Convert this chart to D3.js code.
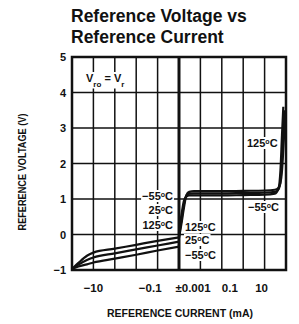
<!DOCTYPE html>
<html>
<head>
<meta charset="utf-8">
<script src="https://cdn.jsdelivr.net/npm/d3@7"></script>
<style>
  body { margin: 0; background: #fff; }
  text { font-family: "Liberation Sans", Arial, sans-serif; font-weight: bold; fill: #111; }
</style>
</head>
<body>
<div id="chart"></div>
<script>
// reference voltage vs reference current, three temperatures

// negative currents (mA) and voltages (V)
let negCurrent = [-100, -50, -20, -10, -1, -0.1, -0.01, -0.001]
let neg125 = [-0.97, -0.8, -0.6, -0.51, -0.40, -0.29, -0.18, -0.08]
let neg25 = [-0.97, -0.85, -0.72, -0.65, -0.53, -0.42, -0.31, -0.2]
let negM55 = [-0.97, -0.9, -0.84, -0.79, -0.68, -0.57, -0.45, -0.34]

// positive currents (mA) and voltages (V)
let posCurrent = [0.001, 0.0013, 0.0017, 0.0022, 0.003, 0.005, 0.01, 0.1, 1, 10, 30, 45, 55, 65, 75, 85, 95]
let pos125 = [0.05, 0.55, 0.95, 1.07, 1.1, 1.1, 1.1, 1.1, 1.11, 1.12, 1.15, 1.3, 1.8, 2.8, 3.6, null, null]
let pos25 = [-0.05, 0.4, 0.85, 1.1, 1.15, 1.16, 1.16, 1.16, 1.17, 1.18, 1.2, 1.28, 1.5, 2.1, 2.9, 3.5, null]
let posM55 = [-0.1, 0.3, 0.75, 1.1, 1.2, 1.22, 1.22, 1.22, 1.23, 1.24, 1.26, 1.32, 1.45, 1.8, 2.4, 3.0, 3.4]

// axis ticks
let yTicks = [-1, 0, 1, 2, 3, 4, 5]
let xGrid = [-100, -10, -1, -0.1, -0.01, 0.001, 0.01, 0.1, 1, 10, 100]
let xTickValues = [-10, -0.1, 0.001, 0.1, 10]
let xTickLabels = ["\u221210", "\u22120.1", "\u00b10.001", "0.1", "10"]

let width = 299, height = 324

let svg = d3.select("#chart")
    .append("svg")
    .attr("width", width)
    .attr("height", height)

// signed decade position, 0 at +-0.001 mA
let dec = (i) => Math.sign(i) * Math.log10(Math.abs(i) / 0.001)

let x = d3.scaleLinear().domain([-5, 5]).range([72, 286])
let y = d3.scaleLinear().domain([-1, 5]).range([270, 57])

// grid
svg.selectAll("hGrid")
    .data(yTicks)
    .enter()
    .append("line")
    .attr("x1", x(-5)).attr("x2", x(5))
    .attr("y1", d => y(d)).attr("y2", d => y(d))
    .attr("stroke", "#111")
    .attr("stroke-width", 1.5)

svg.selectAll("vGrid")
    .data(xGrid)
    .enter()
    .append("line")
    .attr("x1", d => x(dec(d))).attr("x2", d => x(dec(d)))
    .attr("y1", y(-1)).attr("y2", y(5))
    .attr("stroke", "#111")
    .attr("stroke-width", d => d == 0.001 ? 3 : 1.5)

// frame
svg.append("rect")
    .attr("x", x(-5)).attr("y", y(5))
    .attr("width", x(5) - x(-5)).attr("height", y(-1) - y(5))
    .attr("fill", "none")
    .attr("stroke", "#111")
    .attr("stroke-width", 2.5)

// curves
let line = d3.line()
    .defined(d => d.v != null)
    .x(d => x(dec(d.i)))
    .y(d => y(d.v))
    .curve(d3.curveMonotoneX)

let series = [
    negCurrent.map((c, k) => ({ i: c, v: neg125[k] })),
    negCurrent.map((c, k) => ({ i: c, v: neg25[k] })),
    negCurrent.map((c, k) => ({ i: c, v: negM55[k] })),
    posCurrent.map((c, k) => ({ i: c, v: pos125[k] })),
    posCurrent.map((c, k) => ({ i: c, v: pos25[k] })),
    posCurrent.map((c, k) => ({ i: c, v: posM55[k] }))
]

svg.selectAll("curves")
    .data(series)
    .enter()
    .append("path")
    .attr("d", d => line(d))
    .attr("fill", "none")
    .attr("stroke", "#111")
    .attr("stroke-width", 2.2)

// y tick labels
svg.selectAll("yLabels")
    .data(yTicks)
    .enter()
    .append("text")
    .attr("x", 66)
    .attr("y", d => y(d) + 4)
    .attr("text-anchor", "end")
    .style("font-size", "11px")
    .text(d => d < 0 ? "\u2212" + Math.abs(d) : d)

// x tick labels (the printed labels sit a bit right of their grid lines)
let xShift = [0, 14, 14, 8, -3]
svg.selectAll("xLabels")
    .data(xTickValues)
    .enter()
    .append("text")
    .attr("x", (d, k) => x(dec(d)) + xShift[k])
    .attr("y", 292)
    .attr("text-anchor", "middle")
    .style("font-size", "11.5px")
    .text((d, k) => xTickLabels[k])

// axis titles
svg.append("text")
    .attr("x", 180)
    .attr("y", 317)
    .attr("text-anchor", "middle")
    .attr("textLength", 146)
    .attr("lengthAdjust", "spacingAndGlyphs")
    .style("font-size", "10.5px")
    .text("REFERENCE CURRENT (mA)")

svg.append("text")
    .attr("transform", "translate(26,172) rotate(-90)")
    .attr("text-anchor", "middle")
    .attr("textLength", 117)
    .attr("lengthAdjust", "spacingAndGlyphs")
    .style("font-size", "10px")
    .text("REFERENCE VOLTAGE (V)")

// title
let title = svg.append("text")
    .attr("x", 71)
    .style("font-size", "17.5px")
title.append("tspan").attr("x", 71).attr("y", 22).text("Reference Voltage vs")
title.append("tspan").attr("x", 71).attr("y", 43).text("Reference Current")

// annotation helper: white knockout behind text
function note(tx, ty, anchor, parts) {
    let g = svg.append("g")
    let t = g.append("text")
        .attr("x", tx)
        .attr("y", ty)
        .attr("text-anchor", anchor)
        .style("font-size", "11px")
    parts.forEach(p => {
        t.append("tspan")
            .attr("baseline-shift", p.shift || null)
            .style("font-size", p.size || null)
            .text(p.s)
    })
    let b = t.node().getBBox()
    g.insert("rect", "text")
        .attr("x", b.x - 1).attr("y", b.y)
        .attr("width", b.width + 2).attr("height", b.height)
        .attr("fill", "#fff")
}

note(86, 82, "start", [{ s: "V" }, { s: "ro", shift: "sub", size: "8px" }, { s: " = V" }, { s: "r", shift: "sub", size: "8px" }])

note(173, 200, "end", [{ s: "\u221255" }, { s: "o", shift: "super", size: "7px" }, { s: "C" }])
note(173, 214, "end", [{ s: "25" }, { s: "o", shift: "super", size: "7px" }, { s: "C" }])
note(173, 229, "end", [{ s: "125" }, { s: "o", shift: "super", size: "7px" }, { s: "C" }])

note(185, 231, "start", [{ s: "125" }, { s: "o", shift: "super", size: "7px" }, { s: "C" }])
note(185, 244, "start", [{ s: "25" }, { s: "o", shift: "super", size: "7px" }, { s: "C" }])
note(185, 259, "start", [{ s: "\u221255" }, { s: "o", shift: "super", size: "7px" }, { s: "C" }])

note(247, 147, "start", [{ s: "125" }, { s: "o", shift: "super", size: "7px" }, { s: "C" }])
note(248, 211, "start", [{ s: "\u221255" }, { s: "o", shift: "super", size: "7px" }, { s: "C" }])
</script>
</body>
</html>
